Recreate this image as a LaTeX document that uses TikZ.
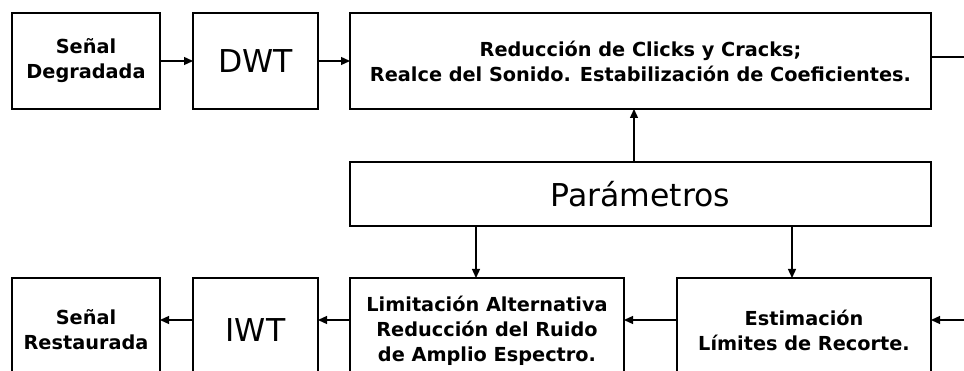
\documentclass[tikz,border=0pt]{standalone}
\usepackage{fontspec}
\setmainfont{DejaVu Sans}
\usetikzlibrary{positioning,arrows.meta}
\tikzset{
  blk/.style={draw,outer sep=0pt,inner sep=2pt,align=center,font=\fontsize{19.3}{25}\selectfont\bfseries},
  big/.style={font=\fontsize{31.5}{34}\selectfont},
}
\begin{document}
\begin{tikzpicture}[x=1pt,y=1pt,line width=1.3pt,>={Triangle[length=9pt,width=8pt]}]
      \useasboundingbox (0,0) rectangle (964,-371);
      \clip (0,0) rectangle (964,-371);
      \node [blk,minimum width=148pt,minimum height=96pt] (sd) at (86,-61) {Señal\\Degradada};
      \node [blk,big,minimum width=125pt,minimum height=96pt,right=33pt of sd] (dwt) {DWT};
      \node [blk,minimum width=581pt,minimum height=96pt,right=32pt of dwt] (red) {Reducción de Clicks y Cracks;\\Realce del Sonido. Estabilización de Coeficientes.};
      \node [blk,big,minimum width=581pt,minimum height=64pt,below=53pt of red] (par) {Parámetros};
      \node [blk,minimum width=254pt,minimum height=104pt,below left=52pt and 0pt of par.south east] (est) {Estimación\\Límites de Recorte.};
      \node [blk,minimum width=274pt,minimum height=106pt,left=53pt of est.north west,anchor=north east] (lim) {Limitación Alternativa\\Reducción del Ruido\\de Amplio Espectro.};
      \node [blk,big,minimum width=125pt,minimum height=104pt,left=32pt of lim.north west,anchor=north east] (iwt) {IWT};
      \node [blk,minimum width=148pt,minimum height=104pt,left=33pt of iwt] (sr) {Señal\\Restaurada};
      \coordinate (outR) at (964,-57);
      \coordinate (inR) at (964,-320);

      \draw[->] (sd) -- (dwt);
      \draw[->] (dwt) -- (red);
      \draw (red.east |- outR) -- (outR);
      \draw[->] ([xshift=-6.5pt]par.north) -- ([xshift=-6.5pt]red.south);
      \draw[->] ([xshift=-11pt]par.south -| lim.north) -- ([xshift=-11pt]lim.north);
      \draw[->] ([xshift=-12pt]par.south -| est.north) -- ([xshift=-12pt]est.north);
      \draw[->] (inR) -- (inR -| est.east);
      \draw[->] (inR -| est.west) -- (inR -| lim.east);
      \draw[->] (inR -| lim.west) -- (inR -| iwt.east);
      \draw[->] (inR -| iwt.west) -- (inR -| sr.east);
    \end{tikzpicture}
\end{document}
